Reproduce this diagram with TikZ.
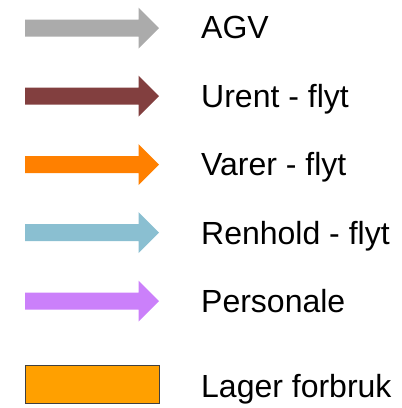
\documentclass[tikz,border=0pt]{standalone}
\usepackage{fontspec}
\setmainfont{Liberation Sans}
\definecolor{cagv}{HTML}{ABABAB}
\definecolor{curent}{HTML}{823F3F}
\definecolor{cvarer}{HTML}{FF8000}
\definecolor{crenhold}{HTML}{8ABFD1}
\definecolor{cpers}{HTML}{CB80FA}
\definecolor{clager}{HTML}{FFA000}
\definecolor{cborder}{HTML}{404040}
\begin{document}
\begin{tikzpicture}[x=1pt,y=-1pt,
  legtext/.style={anchor=base west,inner sep=0pt,font=\fontsize{32}{37}\selectfont},
  legarrow/.style={draw=none}]
\useasboundingbox (0,0) rectangle (402,408);
\newcommand{\legarr}[2]{%
  \fill[#1] (25,#2-8.5) -- (138.5,#2-8.5) -- (138.5,#2-20.5) -- (159,#2)
    -- (138.5,#2+20.5) -- (138.5,#2+8.5) -- (25,#2+8.5) -- cycle;}
\legarr{cagv}{28}
\legarr{curent}{96.2}
\legarr{cvarer}{164.5}
\legarr{crenhold}{232.7}
\legarr{cpers}{301}
\fill[clager] (25,365) rectangle (159.5,403);
\draw[cborder,line width=1pt] (25,365) rectangle (159.5,403);
\node[legtext] (tagv) at (201,38.5) {AGV};
\node[legtext] (turent) at (201,107.5) {Urent - flyt};
\node[legtext] (tvarer) at (201,175.5) {Varer - flyt};
\node[legtext] (trenhold) at (201,244) {Renhold - flyt};
\node[legtext] (tpers) at (201,312.5) {Personale};
\node[legtext] (tlager) at (201,397) {Lager forbruk};
\end{tikzpicture}
\end{document}
